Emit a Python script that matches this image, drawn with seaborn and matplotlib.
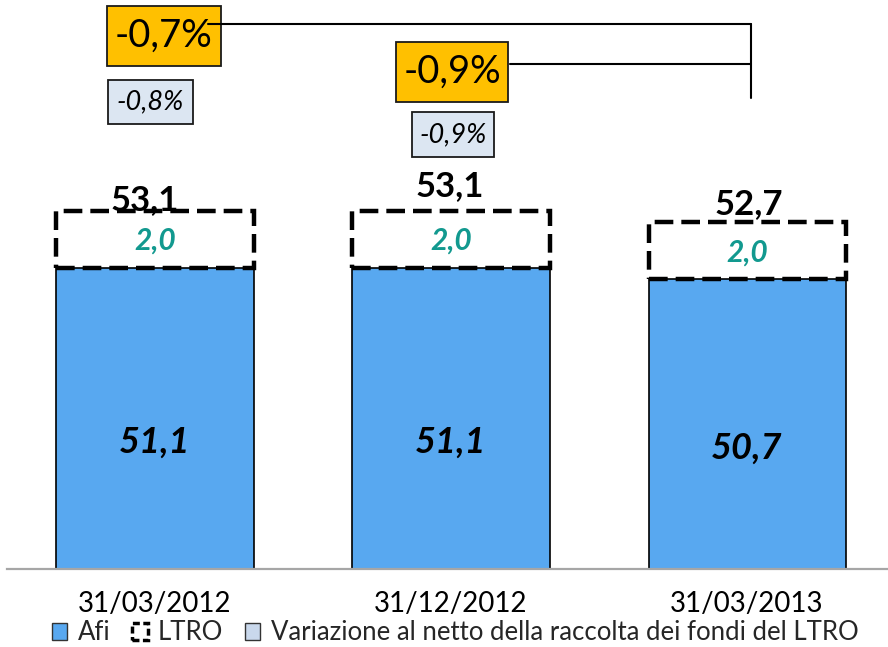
import matplotlib
matplotlib.use("Agg")
import matplotlib.pyplot as plt
import matplotlib.transforms as mtransforms
from matplotlib.patches import Rectangle, Patch
import seaborn as sns
import pandas as pd

# ---- data ----
dates = ["31/03/2012", "31/12/2012", "31/03/2013"]
afi = [51.1, 51.1, 50.7]
ltro = [2.0, 2.0, 2.0]
var_gross = [-0.7, -0.9]      # orange boxes (vs 31/03/2013)
var_net = [-0.8, -0.9]        # light boxes (net of LTRO)
legend_labels = ["Afi", "LTRO", "Variazione al netto della raccolta dei fondi del LTRO"]

def fmt(v, pct=False):
    s = f"{v:.1f}".replace(".", ",")
    return s + "%" if pct else s

sns.set_theme(style="white")
plt.rcParams["font.family"] = ["Lato", "DejaVu Sans"]

W, H = 888, 647
fig = plt.figure(figsize=(W / 100, H / 100), dpi=100)
ax = fig.add_axes([7 / W, 78 / H, 881 / W, 569 / H])

BLUE = "#58A8F0"
ORANGE = "#FFC000"
LIGHT = "#DCE6F2"
TEAL = "#12998F"
bw = 0.666

df = pd.DataFrame({"date": dates, "afi": afi, "ltro": ltro})
sns.barplot(data=df, x="date", y="afi", color=BLUE, saturation=1,
            edgecolor="black", linewidth=1.2, width=bw, ax=ax, zorder=2)
pos = list(range(len(dates)))
ax.bar(pos, ltro, bottom=afi, width=bw, fill=False, edgecolor="black",
       linewidth=3.2, linestyle=(0, (4.2, 1.8)), zorder=3)

ax.set_xlim(-0.5, 2.476)
ax.set_ylim(40.54, 60.5)
ax.set_yticks([])
ax.set_xlabel("")
ax.set_ylabel("")
for s in ["left", "right", "top"]:
    ax.spines[s].set_visible(False)
ax.spines["bottom"].set_color("#A6A6A6")
ax.spines["bottom"].set_linewidth(1.6)
ax.tick_params(axis="x", length=0, pad=16, labelsize=20, labelcolor="black")

# value labels
tot_dx = [-10, -1, 2]
tot_dy = [11, 25, 18]
for i, (a, l) in enumerate(zip(afi, ltro)):
    ax.annotate(fmt(a + l), (i, a + l), xytext=(tot_dx[i] * 0.72, tot_dy[i] * 0.72),
                textcoords="offset points", ha="center", va="center",
                fontsize=25, fontweight="bold", color="black", zorder=5)
    ax.annotate(fmt(l), (i, a + l / 2), xytext=(0, -1), textcoords="offset points",
                ha="center", va="center", fontsize=21.5, fontweight="bold",
                fontstyle="italic", color=TEAL, zorder=5)
    ax.annotate(fmt(a), (i, (a + 40.54) / 2), xytext=(0, -24 * 0.72),
                textcoords="offset points", ha="center", va="center",
                fontsize=26, fontweight="bold", fontstyle="italic",
                color="black", zorder=5)

# variation boxes
trans = mtransforms.blended_transform_factory(ax.transData, ax.transAxes)
px = 1 / 296.0   # data units per pixel (x)
py = 1 / 569.0   # axes fraction per pixel (y)

def box(cx, cy, wpx, hpx, fc, text, fs, style):
    w, h = wpx * px, hpx * py
    ax.add_patch(Rectangle((cx - w / 2, cy - h / 2), w, h, transform=trans,
                           facecolor=fc, edgecolor="#1a1a1a", linewidth=1.3,
                           clip_on=False, zorder=6))
    ax.text(cx, cy, text, transform=trans, ha="center", va="center",
            fontsize=fs, fontstyle=style, color="black", zorder=7)

box(0.03, 0.937, 114, 60, ORANGE, fmt(var_gross[0], True), 27.5, "normal")
box(1.003, 0.8735, 112, 60, ORANGE, fmt(var_gross[1], True), 27.5, "normal")
box(-0.015, 0.8207, 85, 44, LIGHT, fmt(var_net[0], True), 19.5, "italic")
box(1.007, 0.7636, 82, 45, LIGHT, fmt(var_net[1], True), 19.5, "italic")

# connector lines to the last date
xr = 2 + 4 * px
ax.plot([0.18, xr], [0.958, 0.958], color="black", lw=1.5, transform=trans,
        clip_on=False, zorder=8)
ax.plot([1.2, xr], [0.8875, 0.8875], color="black", lw=1.5, transform=trans,
        clip_on=False, zorder=8)
ax.plot([xr, xr], [0.958, 0.828], color="black", lw=1.5, transform=trans,
        clip_on=False, zorder=8)

# legend
handles = [Patch(facecolor=BLUE, edgecolor="#333333", linewidth=1),
           Patch(facecolor="white", edgecolor="black", linewidth=2.5, linestyle=(0, (2, 1))),
           Patch(facecolor="#C9D8EC", edgecolor="#333333", linewidth=1)]
fig.legend(handles, legend_labels, loc="center left",
           bbox_to_anchor=(52 / W, (H - 633) / H), ncol=3, frameon=False,
           fontsize=18.5, handlelength=0.6, handleheight=0.6, handletextpad=0.4,
           columnspacing=0.85, borderpad=0, borderaxespad=0)

fig.savefig("out.png", dpi=100)
